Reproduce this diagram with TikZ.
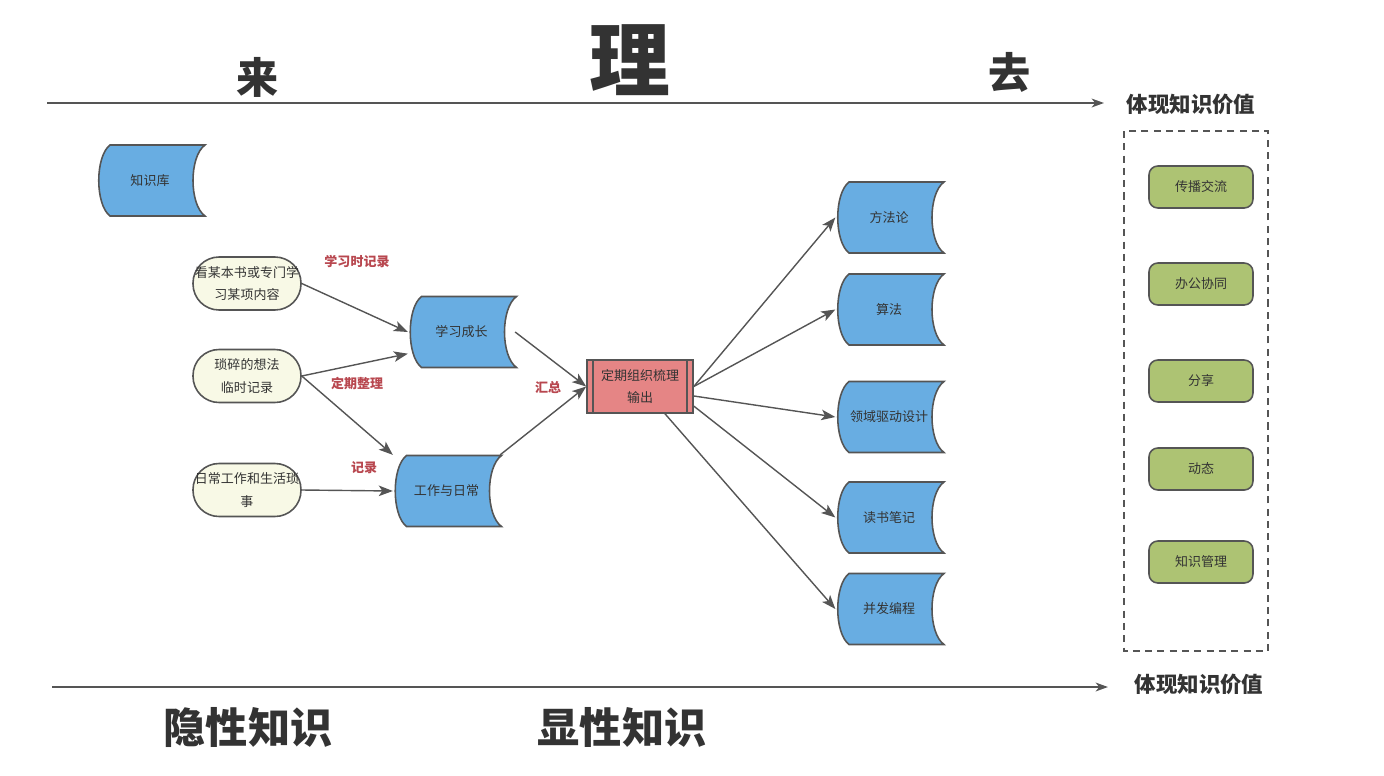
\documentclass[tikz,border=0pt]{standalone}
\usepackage{fontspec}
\newfontfamily\cjk{Noto Sans CJK SC}
\usetikzlibrary{arrows.meta,calc}
\definecolor{storeblue}{HTML}{68ADE2}
\definecolor{procred}{HTML}{E58585}
\definecolor{creamfill}{HTML}{F8F9E6}
\definecolor{leafgreen}{HTML}{ADC373}
\definecolor{edgegray}{HTML}{555555}
\definecolor{textgray}{HTML}{333333}
\definecolor{notered}{HTML}{B8474F}
\tikzset{every picture/.style={line width=0.75pt}}
\tikzset{
  smalltext/.style={font=\cjk\fontsize{7.4}{13}\selectfont, text=textgray, align=center},
  storeline/.style={fill=storeblue, draw=edgegray, line width=0.9pt},
  storenode/.style={smalltext, minimum width=2.12cm, minimum height=1.42cm, inner sep=0pt},
  idea/.style={smalltext, rectangle, rounded corners=0.52cm, draw=edgegray, fill=creamfill, line width=0.9pt,
    minimum width=2.16cm, minimum height=1.06cm, inner sep=0pt},
  procbox/.style={smalltext, draw=edgegray, fill=procred, line width=0.9pt,
    minimum width=2.12cm, minimum height=1.06cm, inner sep=0pt},
  valuebox/.style={smalltext, draw=edgegray, fill=leafgreen, rounded corners=5pt, line width=0.9pt,
    minimum width=2.08cm, minimum height=0.84cm, inner sep=0pt},
  flow/.style={draw=edgegray, line width=0.8pt, -{Stealth[length=8pt,width=6pt,inset=2pt]}},
  axisline/.style={draw=edgegray, line width=1.1pt, -{Stealth[length=7pt,width=5pt,inset=2pt]}},
  notelabel/.style={font=\cjk\bfseries\fontsize{7.4}{9}\selectfont, text=notered},
  valuetitle/.style={font=\cjk\bfseries\fontsize{12.2}{14}\selectfont, text=textgray},
  bigword/.style={font=\cjk\bfseries\fontsize{24}{28}\selectfont, text=textgray}
}
% 存储形状：左凸右凹
\newcommand{\datastore}[3]{%
  \draw[storeline] ($(#2)+(-42,-35.5)$) -- ($(#2)+(53,-35.5)$)
    .. controls ($(#2)+(37,-24)$) and ($(#2)+(37,24)$) .. ($(#2)+(53,35.5)$)
    -- ($(#2)+(-42,35.5)$)
    .. controls ($(#2)+(-57,24)$) and ($(#2)+(-57,-24)$) .. ($(#2)+(-42,-35.5)$) -- cycle;
  \node[storenode] (#1) at ($(#2)+(-2,0)$) {#3};
}

\begin{document}
\begin{tikzpicture}[x=0.02cm, y=-0.02cm]
    \useasboundingbox (0,0) rectangle (1384,775);

    % 标题
    \node[bigword] (lai) at (258,77) {来};
    \node[font=\cjk\bfseries\fontsize{46}{50}\selectfont, text=textgray] (li) at (630,60) {理};
    \node[bigword] (qu) at (1010,72) {去};
    \node[bigword] (tacit) at (248,727) {隐性知识};
    \node[bigword] (explicit) at (622,727) {显性知识};

    % 上下两条轴线
    \node[valuetitle] (topval) at (1191,104) {体现知识价值};
    \node[valuetitle] (botval) at (1199,684) {体现知识价值};
    \coordinate (topstart) at (47,103);
    \coordinate (topend) at (1104,103);
    \coordinate (botstart) at (52,687);
    \coordinate (botend) at (1108,687);
    \draw[axisline] (topstart) -- (topend);
    \draw[axisline] (botstart) -- (botend);

    % 存储节点
    \datastore{base}{152,180.5}{知识库}
    \datastore{grow}{463.5,332}{学习成长}
    \datastore{work}{448.5,491}{工作与日常}
    \datastore{method}{891,217.5}{方法论}
    \datastore{algo}{891,309.5}{算法}
    \datastore{domain}{891,417}{领域驱动设计}
    \datastore{reading}{891,517.5}{读书笔记}
    \datastore{concur}{891,609}{并发编程}

    % 来源
    \node[idea] (book) at (247,283.5) {看某本书或专门学\\习某项内容};
    \node[idea] (trivial) at (247,376) {琐碎的想法\\临时记录};
    \node[idea] (daily) at (247,490) {日常工作和生活琐\\事};

    % 整理输出
    \node[procbox] (proc) at (640,386.5) {定期组织梳理\\输出};
    \draw[edgegray, line width=0.9pt] ($(proc.north west)+(7,0)$) -- ($(proc.south west)+(7,0)$);
    \draw[edgegray, line width=0.9pt] ($(proc.north east)+(-7,0)$) -- ($(proc.south east)+(-7,0)$);

    % 价值
    \draw[edgegray, line width=0.9pt, dash pattern=on 4pt off 3pt] (1124,131) rectangle (1268,651);
    \node[valuebox] (spread) at (1201,187) {传播交流};
    \node[valuebox] (office) at (1201,284) {办公协同};
    \node[valuebox] (share) at (1201,381) {分享};
    \node[valuebox] (news) at (1201,469) {动态};
    \node[valuebox] (manage) at (1201,562) {知识管理};

    % 连线
    \draw[flow] (book.east) -- (grow.west);
    \draw[flow] (trivial.east) -- (grow.202);
    \draw[flow] (trivial.east) -- (work.north west);
    \draw[flow] (daily.east) -- (work.west);
    \draw[flow] (grow.east) -- (proc.west);
    \draw[flow] (work.north east) -- (proc.west);
    \draw[flow] (proc.east) -- (method.west);
    \draw[flow] (proc.east) -- (algo.west);
    \draw[flow] (proc.-10) -- (domain.west);
    \draw[flow] (proc.-20) -- (reading.west);
    \draw[flow] ($(proc.south)+(25,0)$) -- (concur.west);

    % 标注
    \node[notelabel] (studynote) at (357,262) {学习时记录};
    \node[notelabel] (sortnote) at (357,383) {定期整理};
    \node[notelabel] (recnote) at (364,468) {记录};
    \node[notelabel] (sumnote) at (548,387) {汇总};
\end{tikzpicture}
\end{document}
